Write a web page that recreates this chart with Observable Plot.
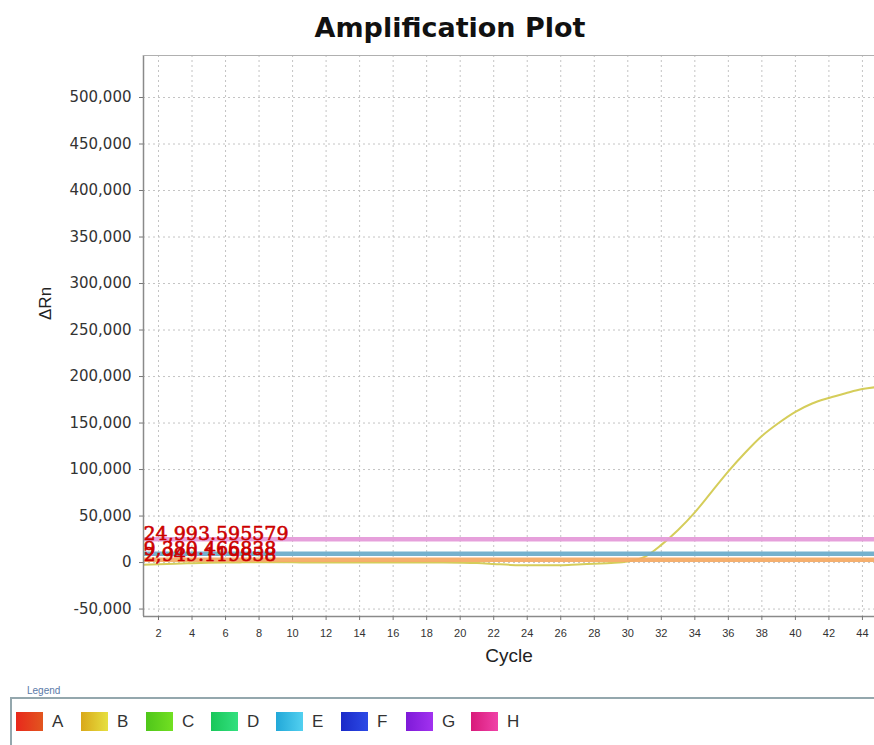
<!DOCTYPE html>
<html>
<head>
<meta charset="utf-8">
<script src="https://cdn.jsdelivr.net/npm/d3@7"></script>
<script src="https://cdn.jsdelivr.net/npm/@observablehq/plot@0.6"></script>
<style>
  html, body { margin: 0; padding: 0; background: #fff; }
  #page { position: relative; width: 874px; height: 745px; overflow: hidden; font-family: "Liberation Sans", Arial, sans-serif; }
  #title { position: absolute; top: 14px; left: 450px; transform: translateX(-50%); white-space: nowrap;
           font: bold 27px/27px "DejaVu Sans", sans-serif; color: #111; }
  #chart { position: absolute; top: 45px; left: 0; }
  #legendBox { position: absolute; left: 10px; top: 697px; width: 880px; height: 60px;
               border-top: 2px solid #94a7ad; border-left: 2px solid #94a7ad; }
  #legendTitle { position: absolute; left: 24px; top: 685px; padding: 0 3px; background: #fff;
                 font: 10px "Liberation Sans", Arial, sans-serif; color: #5a7aa8; }
  .item { position: absolute; top: 712px; height: 19px; display: flex; align-items: center; }
  .sw { width: 27px; height: 19px; }
  .lab { margin-left: 9px; font: 17px "Liberation Sans", Arial, sans-serif; color: #333; }
</style>
</head>
<body>
<div id="page">
  <div id="title">Amplification Plot</div>
  <div id="chart"></div>
  <div id="legendBox"></div>
  <div id="legendTitle">Legend</div>
  <div id="legend"></div>
</div>
<script>
// ---- data ----
const cycles = [1,2,3,4,5,6,7,8,9,10,11,12,13,14,15,16,17,18,19,20,21,22,23,24,25,26,27,28,29,30,31,32,33,34,35,36,37,38,39,40,41,42,43,44,45];
const sampleB = [-2500,-1800,-1200,-700,-300,0,200,300,300,200,100,0,0,0,0,0,0,0,0,-200,-600,-1500,-2500,-3000,-3000,-2800,-2000,-1200,-500,1000,6000,19000,35000,54000,76000,98000,118000,136000,150000,162000,171000,177000,182000,186500,189000];
const thresholdValues = [24993.595579, 9380.466838, 2949.119858];
const thresholdLabels = ["24,993.595579", "9,380.466838", "2,949.119858"];
const thresholdColors = ["#e59bd9", "#6eadca", "#f4ab66"];
const yTicks = [-50000, 0, 50000, 100000, 150000, 200000, 250000, 300000, 350000, 400000, 450000, 500000];
const xTicks = [2,4,6,8,10,12,14,16,18,20,22,24,26,28,30,32,34,36,38,40,42,44];
const xDomain = [1.105, 44.72];
const yDomain = [-58000, 545160];
const legendNames = ["A","B","C","D","E","F","G","H"];
const legendFrom = ["#e8281c","#d9a81a","#4fc61a","#19c75a","#22a8d8","#1a2ac8","#7e1ad8","#d81a7a"];
const legendTo   = ["#e2561f","#e6e040","#72e022","#33e07f","#52d0f0","#2c4ae6","#a232f0","#f042a8"];
const curveColor = "#d5cd5a";

const curve = cycles.map((c, i) => ({cycle: c, value: sampleB[i]}));
const thresholds = thresholdValues.map((v, i) => ({value: v, label: thresholdLabels[i], color: thresholdColors[i]}));

const fmt = d => d.toLocaleString("en-US");

const plot = Plot.plot({
  width: 874,
  height: 640,
  marginLeft: 143,
  marginRight: 0,
  marginTop: 10,
  marginBottom: 69,
  style: {background: "transparent", overflow: "visible"},
  x: {domain: xDomain},
  y: {domain: yDomain},
  color: {type: "identity"},
  marks: [
    Plot.ruleY(yTicks, {stroke: "#c4c4c4", strokeDasharray: "2,3", strokeWidth: 1}),
    Plot.ruleX(xTicks, {stroke: "#c4c4c4", strokeDasharray: "2,3", strokeWidth: 1}),
    Plot.line(curve, {x: "cycle", y: "value", stroke: curveColor, strokeWidth: 2, curve: "monotone-x", clip: true}),
    Plot.ruleY(thresholds, {y: "value", stroke: "color", strokeWidth: 4.5, strokeOpacity: 0.95}),
    Plot.text(thresholds, {x: () => xDomain[0], y: "value", text: "label", textAnchor: "start", lineAnchor: "bottom",
      fill: "#cc0000", stroke: "#cc0000", strokeWidth: 0.6, fontFamily: "DejaVu Serif", fontSize: 19, dy: 1}),
    Plot.ruleX([xDomain[0]], {stroke: "#8a8a8a", strokeWidth: 1.5}),
    Plot.ruleY([yDomain[1]], {stroke: "#b0b0b0", strokeWidth: 1}),
    Plot.ruleY([yDomain[0]], {stroke: "#8a8a8a", strokeWidth: 1.5}),
    Plot.axisY(yTicks, {tickSize: 4, tickPadding: 8, tickFormat: fmt, fontSize: 15, fontFamily: "DejaVu Sans", fill: "#333", stroke: "#777", label: null}),
    Plot.axisX(xTicks, {tickSize: 4, tickPadding: 9, fontSize: 11, fontFamily: "Liberation Sans", fill: "#333", stroke: "#777", label: null}),
    Plot.text(["ΔRn"], {frameAnchor: "left", dx: -98, dy: -16, rotate: -90, fontSize: 17, fontFamily: "Liberation Sans", fill: "#222"}),
    Plot.text(["Cycle"], {frameAnchor: "bottom", dy: 45, fontSize: 19, fontFamily: "Liberation Sans", fill: "#222"})
  ]
});
document.getElementById("chart").appendChild(plot);

// legend
const leg = document.getElementById("legend");
legendNames.forEach((n, i) => {
  const item = document.createElement("div");
  item.className = "item";
  item.style.left = (16 + i * 65) + "px";
  const sw = document.createElement("div");
  sw.className = "sw";
  sw.style.background = `linear-gradient(to right, ${legendFrom[i]}, ${legendTo[i]})`;
  const lab = document.createElement("span");
  lab.className = "lab";
  lab.textContent = n;
  item.appendChild(sw);
  item.appendChild(lab);
  leg.appendChild(item);
});
</script>
</body>
</html>
